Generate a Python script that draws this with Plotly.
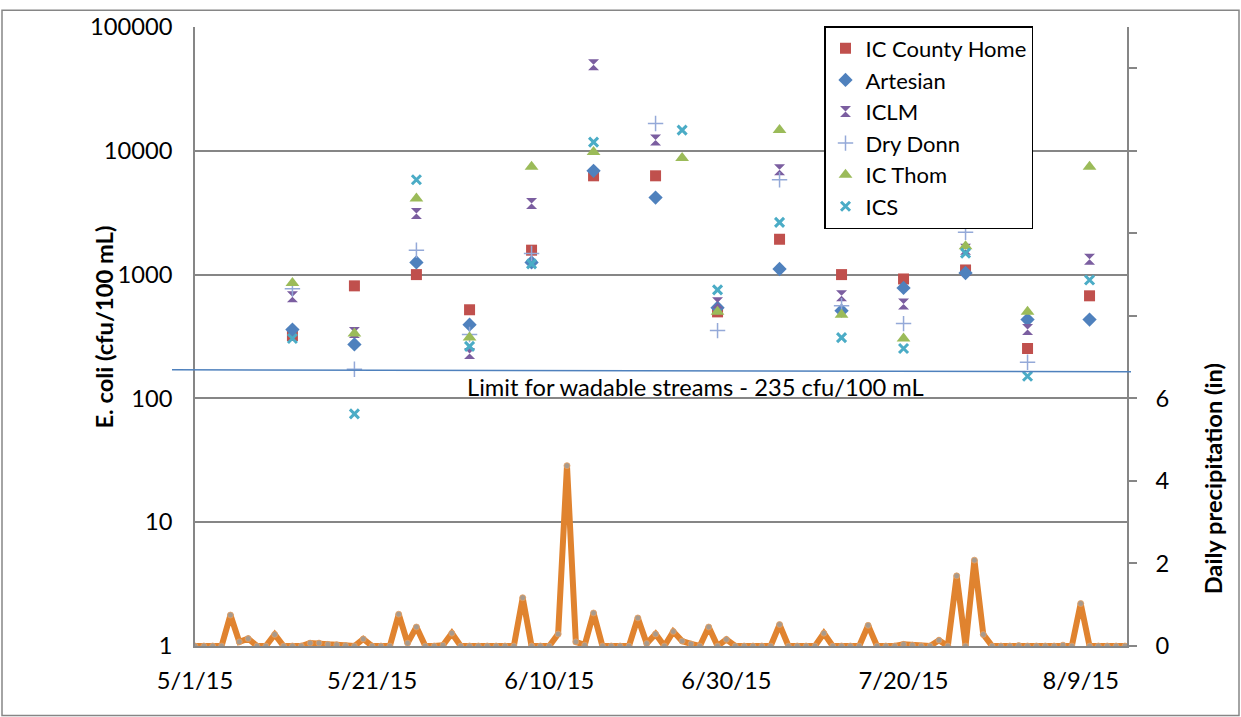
import math
import plotly.graph_objects as go
import pandas as pd

# ---------------- data ----------------
precip_start = "2015-05-01"
precip_in = [0, 0, 0, 0, 0.75, 0.10, 0.18, 0, 0, 0.28,
             0, 0, 0, 0.07, 0.07, 0.04, 0.03, 0.01, 0, 0.17,
             0, 0, 0, 0.77, 0.07, 0.46, 0, 0, 0.02, 0.31,
             0, 0, 0, 0, 0, 0, 0, 1.17, 0, 0,
             0, 0.29, 4.37, 0.10, 0.02, 0.80, 0, 0, 0, 0,
             0.68, 0.06, 0.29, 0, 0.35, 0.12, 0.05, 0, 0.46, 0,
             0.16, 0, 0, 0, 0, 0, 0.52, 0, 0, 0,
             0, 0.31, 0, 0, 0, 0, 0.50, 0, 0, 0,
             0.04, 0.02, 0, 0, 0.14, 0, 1.70, 0, 2.08, 0.28,
             0, 0, 0, 0.01, 0, 0, 0, 0, 0.02, 0,
             1.03, 0, 0, 0, 0, 0]
precip_dates = pd.date_range(precip_start, periods=len(precip_in), freq="D")

sample_dates = ["2015-05-12", "2015-05-19", "2015-05-26", "2015-06-01", "2015-06-08",
                "2015-06-15", "2015-06-22", "2015-06-25", "2015-06-29", "2015-07-06",
                "2015-07-13", "2015-07-20", "2015-07-27", "2015-08-03", "2015-08-10"]

ic_county_home = [322, 811, 1000, 520, 1575, 6280, 6280, None, 500, 1930, 1000, 922, 1090, 253, 674]
artesian = [360, 273, 1255, 394, 1255, 6890, 4190, None, 540, 1110, 511, 781, 1030, 433, 433]
iclm = [661, 340, 3120, 231, 3750, 49600, 12200, None, 592, 7020, 674, 580, 1600, 360, 1333]
dry_donn = [767, 172, 1575, 328, 1480, None, 16600, None, 353, 5840, 560, 402, 2195, 196, None]
ic_thom = [857, 334, 4110, 310, 7420, 9780, None, 8750, 500, 14700, 475, 305, 1695, 500, 7420]
ics = [305, 75, 5840, 263, 1220, 11750, None, 14700, 753, 2640, 310, 253, 1490, 151, 905]

limit_drawn = 170
limit_text = "Limit for wadable streams - 235 cfu/100 mL"

ecoli_ticks = [1, 10, 100, 1000, 10000, 100000]
ecoli_ticktext = ["1", "10", "100", "1000", "10000", "100000"]
precip_ticks = [0, 2, 4, 6, 8, 10, 12, 14]
precip_ticktext = ["0", "2", "4", "6", "", "", "", ""]

# ---------------- styling ----------------
FONT = "Lato"
GRID = "#868686"
FS = 23.7
LFS = 22

series = [
    ("IC County Home", ic_county_home, dict(symbol="square", size=11, color="#C0504D")),
    ("Artesian", artesian, dict(symbol="diamond", size=11, color="#4F81BD")),
    ("ICLM", iclm, dict(symbol="hourglass", size=11, color="#7B5EA0")),
    ("Dry Donn", dry_donn, dict(symbol="cross-thin-open", size=11, color="#94A9D8",
                                line=dict(color="#94A9D8", width=1.5))),
    ("IC Thom", ic_thom, dict(symbol="triangle-up", size=12, color="#9BBB59")),
    ("ICS", ics, dict(symbol="x-thin-open", size=9, color="#4BACC6",
                      line=dict(color="#4BACC6", width=3))),
]

fig = go.Figure()

fig.add_trace(go.Scatter(
    x=precip_dates, y=precip_in, mode="lines+markers", yaxis="y2",
    line=dict(color="#E0832F", width=6),
    marker=dict(size=6, color="#A89A8C", line=dict(color="#E8A060", width=0.8)),
    showlegend=False, name="Precipitation"))

for name, vals, mk in series:
    fig.add_trace(go.Scatter(x=sample_dates, y=vals, mode="markers", name=name,
                             marker=mk, yaxis="y"))

L, R, T, B = 195, 1127, 22, 646
W = R - L
H = B - T

def px(xp):
    return (xp - L) / W

def py(yp):
    return (B - yp) / H

ylim = math.log10(limit_drawn) / 5
shapes = [
    dict(type="line", xref="paper", yref="paper",
         x0=px(172), x1=px(1131), y0=ylim, y1=ylim - 0.003,
         line=dict(color="#4F81BD", width=1.5)),
    dict(type="rect", xref="paper", yref="paper",
         x0=px(2), x1=px(1239), y0=py(716), y1=py(5),
         line=dict(color=GRID, width=1.5), layer="below"),
]

annotations = [
    dict(text=limit_text, xref="paper", yref="paper", x=px(695), y=py(385),
         xanchor="center", yanchor="middle",
         showarrow=False, font=dict(family=FONT, size=FS, color="#000000")),
    dict(text="<b>E. coli (cfu/100 mL)</b>", xref="paper", yref="paper",
         x=px(104), y=py(325), xanchor="center", yanchor="middle",
         textangle=-90, showarrow=False,
         font=dict(family=FONT, size=FS, color="#000000")),
    dict(text="<b>Daily precipitation (in)</b>", xref="paper", yref="paper",
         x=px(1213), y=py(478), xanchor="center", yanchor="middle",
         textangle=-90, showarrow=False,
         font=dict(family=FONT, size=FS, color="#000000")),
]

fig.update_layout(
    width=1241, height=717,
    margin=dict(l=L, r=1241 - R, t=T, b=717 - B, pad=0),
    paper_bgcolor="white", plot_bgcolor="white",
    font=dict(family=FONT, size=FS, color="#000000"),
    showlegend=True,
    legend=dict(x=px(824), y=py(21), xanchor="left", yanchor="top",
                bgcolor="white", bordercolor="#000000", borderwidth=1.5,
                font=dict(family=FONT, size=LFS, color="#000000"),
                itemsizing="trace"),
    xaxis=dict(type="date", range=["2015-05-01", "2015-08-14 05:30"],
               tick0="2015-05-01", dtick=20 * 86400000, tickformat="%-m/%-d/%y",
               showgrid=False, showline=True, linecolor=GRID, linewidth=1.5,
               ticks="", ticklabelstandoff=13, zeroline=False,
               tickfont=dict(family=FONT, size=FS)),
    yaxis=dict(type="log", range=[0, 5], tickvals=ecoli_ticks, ticktext=ecoli_ticktext,
               showgrid=True, gridcolor=GRID, gridwidth=1.5,
               showline=True, linecolor=GRID, linewidth=1.5,
               ticks="", ticklabelstandoff=16,
               tickfont=dict(family=FONT, size=FS)),
    yaxis2=dict(overlaying="y", side="right", range=[0, 15],
                tickvals=precip_ticks, ticktext=precip_ticktext,
                showgrid=False, zeroline=False,
                showline=True, linecolor=GRID, linewidth=1.5,
                ticks="outside", ticklen=8, tickcolor=GRID, tickwidth=1.5,
                ticklabelstandoff=14,
                tickfont=dict(family=FONT, size=FS)),
    shapes=shapes,
    annotations=annotations,
)

fig.write_html("out.html", config={"displayModeBar": False},
               post_script="document.body.style.margin='0';document.body.style.overflow='hidden';")
